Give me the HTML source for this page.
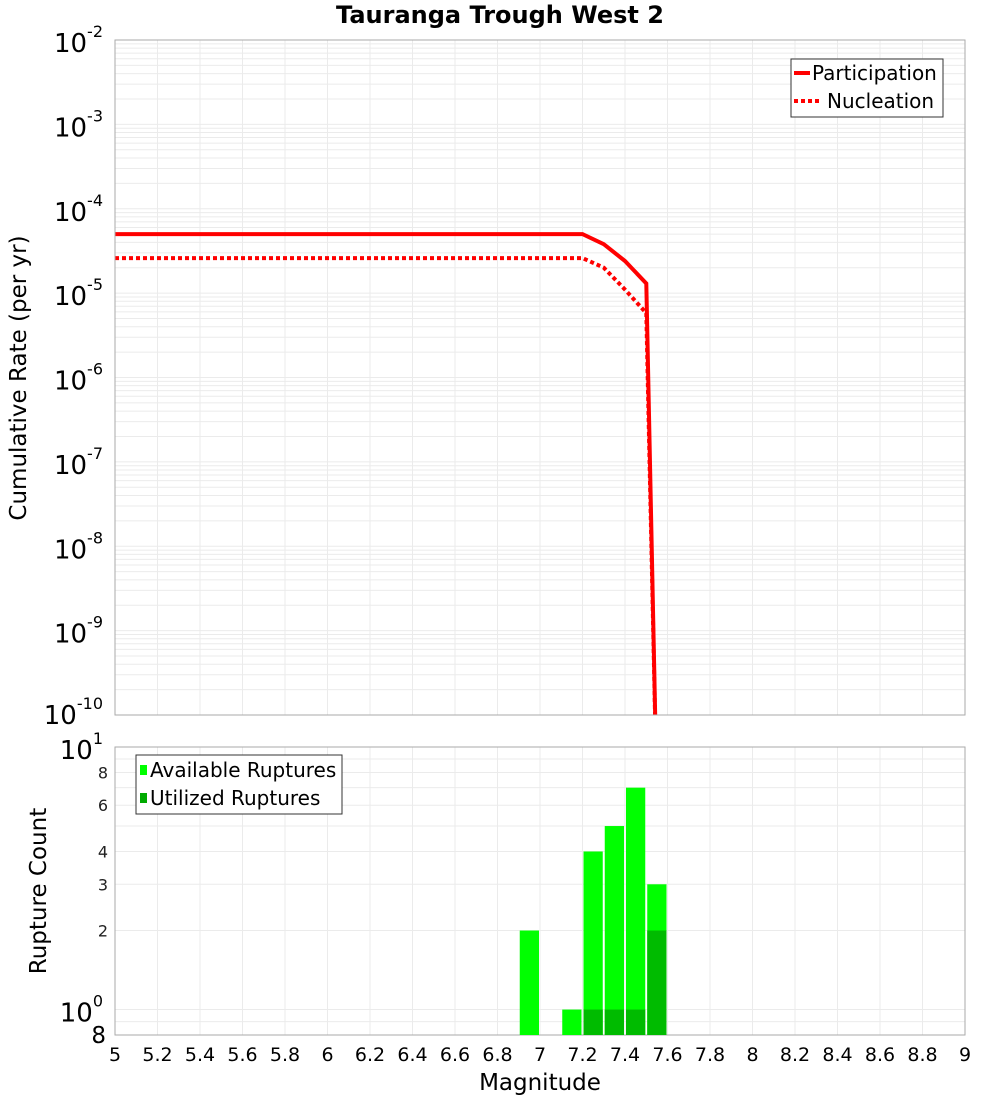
<!DOCTYPE html>
<html><head><meta charset="utf-8"><style>
body{margin:0;background:#fff;font-family:"Liberation Sans","DejaVu Sans",sans-serif}
svg text{font-family:"DejaVu Sans","Liberation Sans",sans-serif}
</style></head><body>
<svg id="c" width="1000" height="1100" xmlns="http://www.w3.org/2000/svg"></svg>
<script>
const partMags=[5.0,7.2,7.3,7.4,7.5,7.55];
const partRates=[5e-5,5e-5,3.8e-5,2.4e-5,1.3e-5,1e-11];
const nuclMags=[5.0,7.2,7.3,7.4,7.5,7.55];
const nuclRates=[2.6e-5,2.6e-5,2.0e-5,1.1e-5,5.8e-6,1e-11];
const binMags=[6.9,7.1,7.2,7.3,7.4,7.5];
const availCounts=[2,1,4,5,7,3];
const utilCounts=[0,0,1,1,1,2];
const xTicks=[5,5.2,5.4,5.6,5.8,6,6.2,6.4,6.6,6.8,7,7.2,7.4,7.6,7.8,8,8.2,8.4,8.6,8.8,9];
const topExps=[-2,-3,-4,-5,-6,-7,-8,-9,-10];
const botTicks=[8,6,4,3,2];

const svg=document.getElementById('c');const NS='http://www.w3.org/2000/svg';
function el(t,a,p){const e=document.createElementNS(NS,t);for(const k in a)e.setAttribute(k,a[k]);(p||svg).appendChild(e);return e;}
const L=115,R=965,T1=40,B1=715,T2=747,B2=1035;
const x=m=>L+(m-5)/4*(R-L);
const y1=v=>T1+(-2-Math.log10(v))/8*(B1-T1);
const y2=v=>T2+(1-Math.log10(v))/(1-Math.log10(0.8))*(B2-T2);

let t=el('text',{x:500,y:23,'text-anchor':'middle','font-size':24,'font-weight':'bold'});t.textContent='Tauranga Trough West 2';


const g1=el('g',{});

for(let e=-10;e<-2;e++)for(let k=1;k<10;k++){const yy=y1(k*Math.pow(10,e));el('line',{x1:L,x2:R,y1:yy,y2:yy,stroke:'#ebebeb','stroke-width':1},g1);}
for(let i=0;i<=20;i++){const xx=x(5+i*0.2);el('line',{x1:xx,x2:xx,y1:T1,y2:B1,stroke:'#ebebeb'},g1);el('line',{x1:xx,x2:xx,y1:T2,y2:B2,stroke:'#ebebeb'},g1);}
const g2=el('g',{});

[0.8,0.9,1,2,3,4,5,6,7,8,9].forEach(v=>{const yy=y2(v);el('line',{x1:L,x2:R,y1:yy,y2:yy,stroke:'#ebebeb'},g2);});

const defs=el('defs',{});const cp=el('clipPath',{id:'cp1'},defs);el('rect',{x:L,y:T1,width:R-L,height:B1-T1},cp);

function path(ms,vs){return ms.map((m,i)=>(i?'L':'M')+x(m).toFixed(1)+','+y1(vs[i]).toFixed(1)).join(' ');}
let p=el('path',{d:path(nuclMags,nuclRates),fill:'none',stroke:'#ff0000','stroke-width':4,'stroke-dasharray':'4,3','clip-path':'url(#cp1)'});

p=el('path',{d:path(partMags,partRates),fill:'none',stroke:'#ff0000','stroke-width':4,'clip-path':'url(#cp1)'});


el('rect',{x:L,y:T1,width:R-L,height:B1-T1,fill:'none',stroke:'#aaa'});
el('rect',{x:L,y:T2,width:R-L,height:B2-T2,fill:'none',stroke:'#aaa'});

topExps.forEach(e=>{const yy=y1(Math.pow(10,e));const tt=el('text',{x:103,y:yy+12,'text-anchor':'end','font-size':26});

tt.innerHTML='10<tspan dy="-15" font-size="16">'+e+'</tspan>';
if(e===-10){tt.setAttribute('y',yy+9);}});
t=el('text',{transform:'translate(26,378) rotate(-90)','text-anchor':'middle','font-size':23});t.textContent='Cumulative Rate (per yr)';


const lg=el('g',{});
el('rect',{x:791,y:59,width:152,height:58,fill:'#fff',stroke:'#333'},lg);
el('line',{x1:794,x2:810,y1:73,y2:73,stroke:'#f00','stroke-width':4},lg);
el('line',{x1:794,x2:822,y1:101,y2:101,stroke:'#f00','stroke-width':4,'stroke-dasharray':'4,3'},lg);
t=el('text',{x:812,y:80,'font-size':20},lg);t.textContent='Participation';
t=el('text',{x:827,y:108,'font-size':20},lg);t.textContent='Nucleation';

const w=x(5.1)-x(5);
binMags.forEach((m,i)=>{const r=el('rect',{x:x(m)+1,y:y2(availCounts[i]),width:w-2,height:B2-y2(availCounts[i]),fill:'#00ff00'});

if(utilCounts[i]>0){const u=el('rect',{x:x(m)+1,y:y2(utilCounts[i]),width:w-2,height:B2-y2(utilCounts[i]),fill:'#00bb00'});
}});

[[1,10],[0,1]].forEach(([e,v])=>{const tt=el('text',{x:103,y:y2(v)+12,'text-anchor':'end','font-size':26});tt.innerHTML='10<tspan dy="-15" font-size="16">'+e+'</tspan>';
});
botTicks.forEach(v=>{const tt=el('text',{x:108,y:y2(v)+6,'text-anchor':'end','font-size':16,fill:'#222'});tt.textContent=v;
});
t=el('text',{x:106,y:1043,'text-anchor':'end','font-size':23});t.textContent='8';
t=el('text',{transform:'translate(46,891) rotate(-90)','text-anchor':'middle','font-size':23});t.textContent='Rupture Count';


const lg2=el('g',{});
el('rect',{x:136,y:755,width:206,height:59,fill:'#fff',stroke:'#333'},lg2);
el('rect',{x:140,y:765,width:7,height:10,fill:'#00ff00'},lg2);
el('rect',{x:140,y:793,width:7,height:10,fill:'#00aa00'},lg2);
t=el('text',{x:150,y:777,'font-size':20},lg2);t.textContent='Available Ruptures';
t=el('text',{x:150,y:805,'font-size':20},lg2);t.textContent='Utilized Ruptures';

xTicks.forEach(m=>{const tt=el('text',{x:x(m),y:1061,'text-anchor':'middle','font-size':19});tt.textContent=String(m);
});
t=el('text',{x:540,y:1090,'text-anchor':'middle','font-size':23});t.textContent='Magnitude';

</script>
</body></html>
